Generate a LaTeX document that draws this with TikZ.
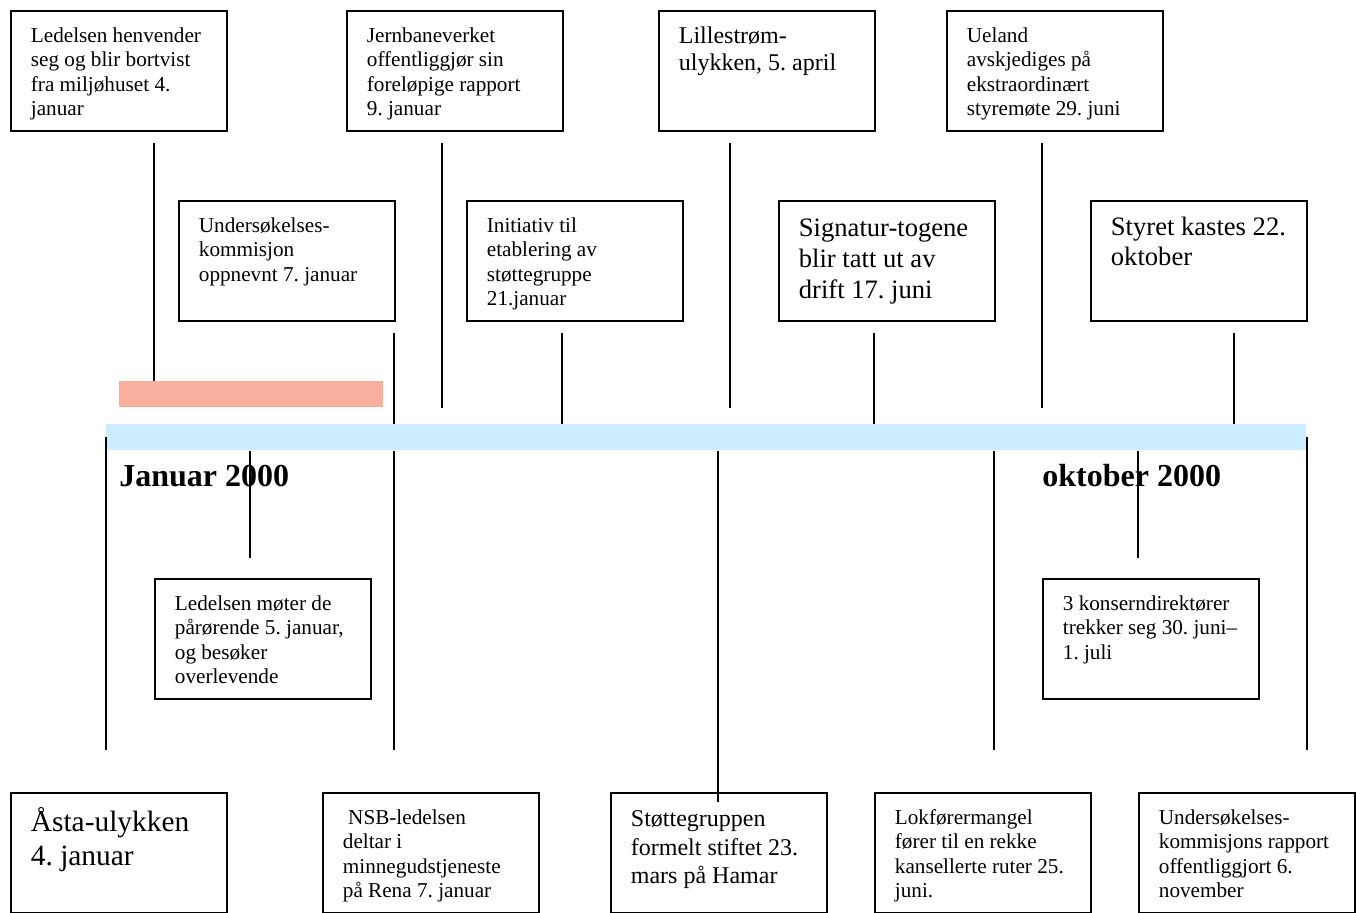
\documentclass[tikz,border=0pt]{standalone}
\usepackage{fontspec}
\setmainfont{Liberation Serif}
\usepackage{tikz}
\usetikzlibrary{calc}
\definecolor{BarBlue}{HTML}{CCECFF}
\definecolor{BarPink}{HTML}{FAAF9E}
\frenchspacing
\newcommand{\evtxt}[2][\fontsize{10.6}{12.25}\selectfont]{%
  \parbox[t][60pt][t]{108pt}{\raggedright\leftskip=10pt #1\vspace*{7pt}\strut #2}}

\begin{document}
\begin{tikzpicture}[x=.5pt,y=-.5pt,
    evbox/.style={draw,line width=.9pt,anchor=north west,inner sep=0pt,
      minimum width=108pt,minimum height=60pt},
    tick/.style={line width=1pt},
    year/.style={anchor=base west,inner sep=0pt,font=\fontsize{16}{19}\selectfont\bfseries}]
  \useasboundingbox (0,0) rectangle (1356,912);
  \clip (0,0) rectangle (1356,912);
  % the two bars
  \node[fill=BarPink,anchor=north west,inner sep=0pt,minimum width=132pt,minimum height=13pt] (pink) at (119,381) {};
  \node[fill=BarBlue,anchor=north west,inner sep=0pt,minimum width=600pt,minimum height=13pt] (bar) at (106,424) {};
  \node[year] (jan) at (119,486) {Januar 2000};
  \node[year] (okt) at (1042,486) {oktober 2000};
  % dates on the bar
  \coordinate (jan04) at (154,437);
  \coordinate (jan05) at (250,437);
  \coordinate (jan07) at (394,437);
  \coordinate (jan09) at (442,437);
  \coordinate (jan21) at (562,437);
  \coordinate (mar23) at (718,437);
  \coordinate (apr05) at (730,437);
  \coordinate (jun17) at (874,437);
  \coordinate (jun25) at (994,437);
  \coordinate (jun29) at (1042,437);
  \coordinate (jun30) at (1138,437);
  \coordinate (oct22) at (1234,437);
  % upper events
  \node[evbox] (a1) at (10,10) {\evtxt{Ledelsen henvender\\seg og blir bortvist\\fra miljøhuset 4.\\januar}};
  \node[evbox] (b1) at (346,10) {\evtxt{Jernbaneverket\\offentliggjør sin\\foreløpige rapport\\9. januar}};
  \node[evbox] (c1) at (658,10) {\evtxt[\fontsize{12}{13.5}\selectfont]{Lillestrøm-\\ulykken, 5. april}};
  \node[evbox] (d1) at (946,10) {\evtxt{Ueland\\avskjediges på\\ekstraordinært\\styremøte 29. juni}};
  \node[evbox] (e1) at (178,200) {\evtxt{Undersøkelses-\\kommisjon\\oppnevnt 7. januar}};
  \node[evbox] (f1) at (466,200) {\evtxt{Initiativ til\\etablering av\\støttegruppe\\21.januar}};
  \node[evbox] (g1) at (778,200) {\evtxt[\fontsize{13.3}{15.5}\selectfont]{Signatur-togene\\blir tatt ut av\\drift 17. juni}};
  \node[evbox] (h1) at (1090,200) {\evtxt[\fontsize{13.3}{15}\selectfont]{Styret kastes 22.\\oktober}};
  % lower events
  \node[evbox] (i1) at (154,578) {\evtxt{Ledelsen møter de\\pårørende 5. januar,\\og besøker\\overlevende}};
  \node[evbox] (j1) at (1042,578) {\evtxt{3 konserndirektører\\trekker seg 30. juni–\\1. juli}};
  \node[evbox] (k1) at (10,792) {\evtxt[\fontsize{14.7}{17}\selectfont]{Åsta-ulykken\\4. januar}};
  \node[evbox] (l1) at (322,792) {\evtxt{\ NSB-ledelsen\\deltar i\\minnegudstjeneste\\på Rena 7. januar}};
  \node[evbox] (m1) at (610,792) {\evtxt[\fontsize{12}{14.25}\selectfont]{Støttegruppen\\formelt stiftet 23.\\mars på Hamar}};
  \node[evbox] (n1) at (874,792) {\evtxt{Lokførermangel\\fører til en rekke\\kansellerte ruter 25.\\juni.}};
  \node[evbox] (o1) at (1138,792) {\evtxt{Undersøkelses-\\kommisjons rapport\\offentliggjort 6.\\november}};
  % ticks above the bar
  \draw[tick] ($(a1.south -| jan04)+(0,11)$) -- (pink.north -| jan04);
  \foreach \b/\d in {b1/jan09,c1/apr05,d1/jun29}
    \draw[tick] ($(\b.south -| \d)+(0,11)$) -- (pink.south -| \d);
  \foreach \b/\d in {e1/jan07,f1/jan21,g1/jun17,h1/oct22}
    \draw[tick] ($(\b.south -| \d)+(0,11)$) -- (bar.north -| \d);
  % ticks below the bar
  \draw[tick] (bar.west) -- ($(k1.north -| bar.west)+(0,-42)$);
  \draw[tick] (bar.east) -- ($(o1.north -| bar.east)+(0,-42)$);
  \foreach \b/\d in {i1/jan05,j1/jun30}
    \draw[tick] (bar.south -| \d) -- ($(\b.north -| \d)+(0,-20)$);
  \foreach \b/\d in {l1/jan07,n1/jun25}
    \draw[tick] (bar.south -| \d) -- ($(\b.north -| \d)+(0,-42)$);
  \draw[tick] (bar.south -| mar23) -- ($(m1.north -| mar23)+(0,10)$);
\end{tikzpicture}
\end{document}
